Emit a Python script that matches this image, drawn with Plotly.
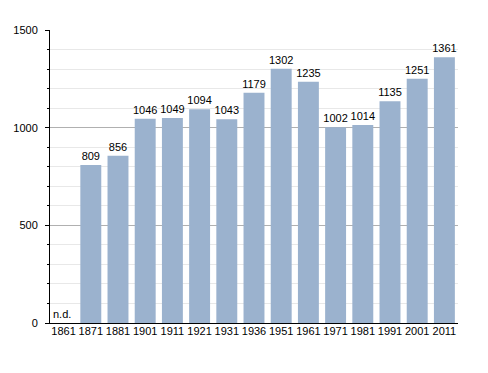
import plotly.graph_objects as go

years = ["1861", "1871", "1881", "1901", "1911", "1921", "1931", "1936",
         "1951", "1961", "1971", "1981", "1991", "2001", "2011"]
population = [None, 809, 856, 1046, 1049, 1094, 1043, 1179,
              1302, 1235, 1002, 1014, 1135, 1251, 1361]
labels = ["" if v is None else str(v) for v in population]
missing_label = "n.d."

fig = go.Figure()
fig.add_trace(go.Bar(
    x=years, y=population, text=labels, textposition="outside",
    textfont=dict(family="Liberation Sans, Arial", size=11, color="black"),
    constraintext="none",
    marker=dict(color="#9bb2ce", line=dict(width=0)),
    width=0.77, cliponaxis=False,
))
fig.add_annotation(x=years.index("1861"), y=0, text=missing_label, showarrow=False,
                   xanchor="left", yanchor="bottom", xshift=-13, yshift=1,
                   font=dict(family="Liberation Sans, Arial", size=11, color="black"))

fig.update_layout(
    width=480, height=365,
    margin=dict(l=42, r=30, t=22, b=50),
    plot_bgcolor="white", paper_bgcolor="white",
    showlegend=False,
    font=dict(family="Liberation Sans, Arial", size=11, color="black"),
)
fig.update_xaxes(
    type="category", range=[-0.5, len(years) - 0.5], automargin=False,
    showline=True, linecolor="black", linewidth=1, tickangle=0,
    ticks="", ticklabelstandoff=-2, showgrid=False,
    tickfont=dict(size=11, color="black"),
)
fig.update_yaxes(
    range=[0, 1500], dtick=500, showline=True, linecolor="black", linewidth=1,
    automargin=False,
    ticks="outside", ticklen=4, tickcolor="black", ticklabelstandoff=5,
    showgrid=True, gridcolor="#b0b0b0", gridwidth=1, zeroline=False,
    minor=dict(dtick=100, showgrid=True, gridcolor="#e8e8e8", ticks="outside",
               ticklen=2, tickcolor="black"),
    tickfont=dict(size=11, color="black"),
)
fig.write_html("out.html")
